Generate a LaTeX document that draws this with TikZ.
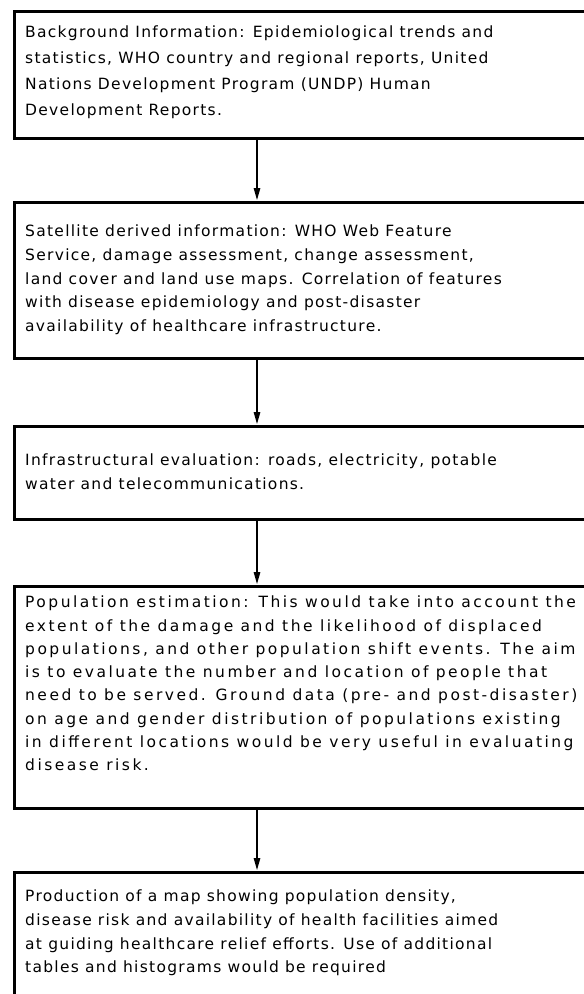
\documentclass[tikz,border=0pt]{standalone}
\usepackage{fontspec}
\setmainfont{DejaVu Sans}[LetterSpace=8.3]
\newfontfamily\widefont{DejaVu Sans}[LetterSpace=16]
\usetikzlibrary{arrows.meta}
\tikzset{
  boxnode/.style={draw=black, line width=3pt, rectangle, anchor=north west, inner sep=0pt, minimum width=640pt},
  txt/.style={anchor=west, align=left, inner sep=0pt, font=\fontsize{15.5}{23.7}\selectfont},
  conn/.style={draw=black, line width=1.3pt, -{Triangle[length=12pt,width=6.5pt]}, shorten >=1pt}
}
\begin{document}
\begin{tikzpicture}[x=1pt,y=-1pt]
\clip (0,0) rectangle (584,994);
\fill[white] (0,0) rectangle (584,994);
% boxes
\node[boxnode, minimum height=127pt] (b1) at (13,10) {};
\node[boxnode, minimum height=156pt] (b2) at (13,201) {};
\node[boxnode, minimum height=93pt] (b3) at (13,425) {};
\node[boxnode, minimum height=222pt] (b4) at (13,585) {};
\node[boxnode, minimum height=180pt] (b5) at (13,871) {};
% texts
\node[txt, font=\fontsize{15.5}{26}\selectfont] (t1) at (25,72.5) {Background Information: Epidemiological trends and\\statistics, WHO country and regional reports, United\\Nations Development Program (UNDP) Human\\Development Reports.};
\node[txt] (t2) at (25,280) {Satellite derived information: WHO Web Feature\\Service, damage assessment, change assessment,\\land cover and land use maps. Correlation of features\\with disease epidemiology and post-disaster\\availability of healthcare infrastructure.};
\node[txt] (t3) at (25,472) {Infrastructural evaluation: roads, electricity, potable\\water and telecommunications.};
\node[txt, font=\widefont\fontsize{15.5}{23.3}\selectfont] (t4) at (25,683.5) {Population estimation: This would take into account the\\extent of the damage and the likelihood of displaced\\populations, and other population shift events. The aim\\is to evaluate the number and location of people that\\need to be served. Ground data (pre- and post-disaster)\\on age and gender distribution of populations existing\\in different locations would be very useful in evaluating\\disease risk.};
\node[txt] (t5) at (25,933) {Production of a map showing population density,\\disease risk and availability of health facilities aimed\\at guiding healthcare relief efforts. Use of additional\\tables and histograms would be required};
% connectors
\coordinate (a1) at (257,138.5);
\coordinate (a2) at (257,358.5);
\coordinate (a3) at (257,519.5);
\coordinate (a4) at (257,808.5);
\draw[conn] (a1) -- (a1 |- b2.north);
\draw[conn] (a2) -- (a2 |- b3.north);
\draw[conn] (a3) -- (a3 |- b4.north);
\draw[conn] (a4) -- (a4 |- b5.north);
\end{tikzpicture}
\end{document}
